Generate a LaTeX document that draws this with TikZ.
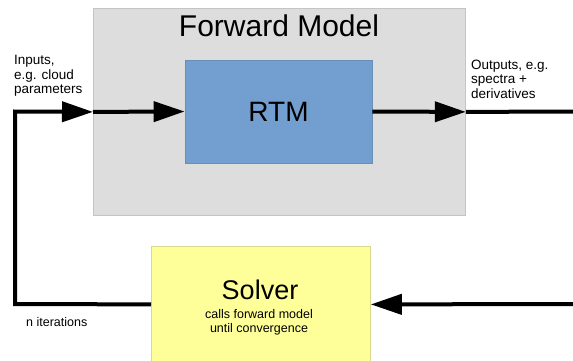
\documentclass[tikz,border=0pt]{standalone}
\usepackage{fontspec}
\setmainfont{Liberation Sans}
\usetikzlibrary{arrows.meta}
\definecolor{fmgray}{HTML}{DDDDDD}
\definecolor{fmedge}{HTML}{C4C4C4}
\definecolor{rtmblue}{HTML}{729FCF}
\definecolor{solveryellow}{HTML}{FFFF99}
\definecolor{solveredge}{HTML}{D8D890}
\begin{document}
\begin{tikzpicture}[x=1pt,y=-1pt,
  box/.style={inner sep=0pt, line width=0.8pt},
  lbl/.style={inner sep=0pt, font=\fontsize{13.5}{14.5}\selectfont, align=left},
  flow/.style={line width=4pt, -{Triangle[length=31pt,width=20pt]}},
  link/.style={line width=4pt}]
\useasboundingbox (0,0) rectangle (573,360);
\clip (0,0) rectangle (573,360);
\fill[white] (0,0) rectangle (573,360);
% boxes
\node[box, fill=fmgray, draw=fmedge, minimum width=372pt, minimum height=207pt, anchor=north west] (fm) at (93,8) {};
\node[inner sep=0pt, font=\fontsize{30}{34}\selectfont] (fmt) at (279,26) {Forward Model};
\node[box, fill=rtmblue, draw=rtmblue!90!black, minimum width=187pt, minimum height=103pt, font=\fontsize{28}{32}\selectfont] (rtm) at (278.5,111.5) {RTM};
\node[box, fill=solveryellow, draw=solveredge, minimum width=219pt, minimum height=116pt, anchor=north west] (solver) at (151,246) {};
\node[inner sep=0pt, font=\fontsize{27}{30}\selectfont] (st) at (260,290) {Solver};
\node[inner sep=0pt, font=\fontsize{12.5}{14}\selectfont, align=center] (ss) at (259,322) {calls forward model\\ until convergence};
% labels
\node[lbl, anchor=west] (inl) at (14,76) {Inputs,\\e.g. cloud\\parameters};
\node[lbl, anchor=west] (outl) at (471,79) {Outputs, e.g.\\spectra +\\derivatives};
\node[inner sep=0pt, font=\fontsize{12.5}{14}\selectfont, anchor=west] (itl) at (26,322) {n iterations};
% connector helpers
\coordinate (lb) at (15,304);
\coordinate (lt) at (15,111.5);
\coordinate (rt) at (576,111.5);
\coordinate (rb) at (576,304);
% connectors
\draw[flow] (solver.west) -- (lb) -- (lt) -- (fm.west);
\draw[flow] (fm.west) -- (rtm.west);
\draw[flow] (rtm.east) -- (fm.east);
\draw[link] (fm.east) -- (rt);
\draw[flow] (rb) -- (solver.east);
\end{tikzpicture}
\end{document}
